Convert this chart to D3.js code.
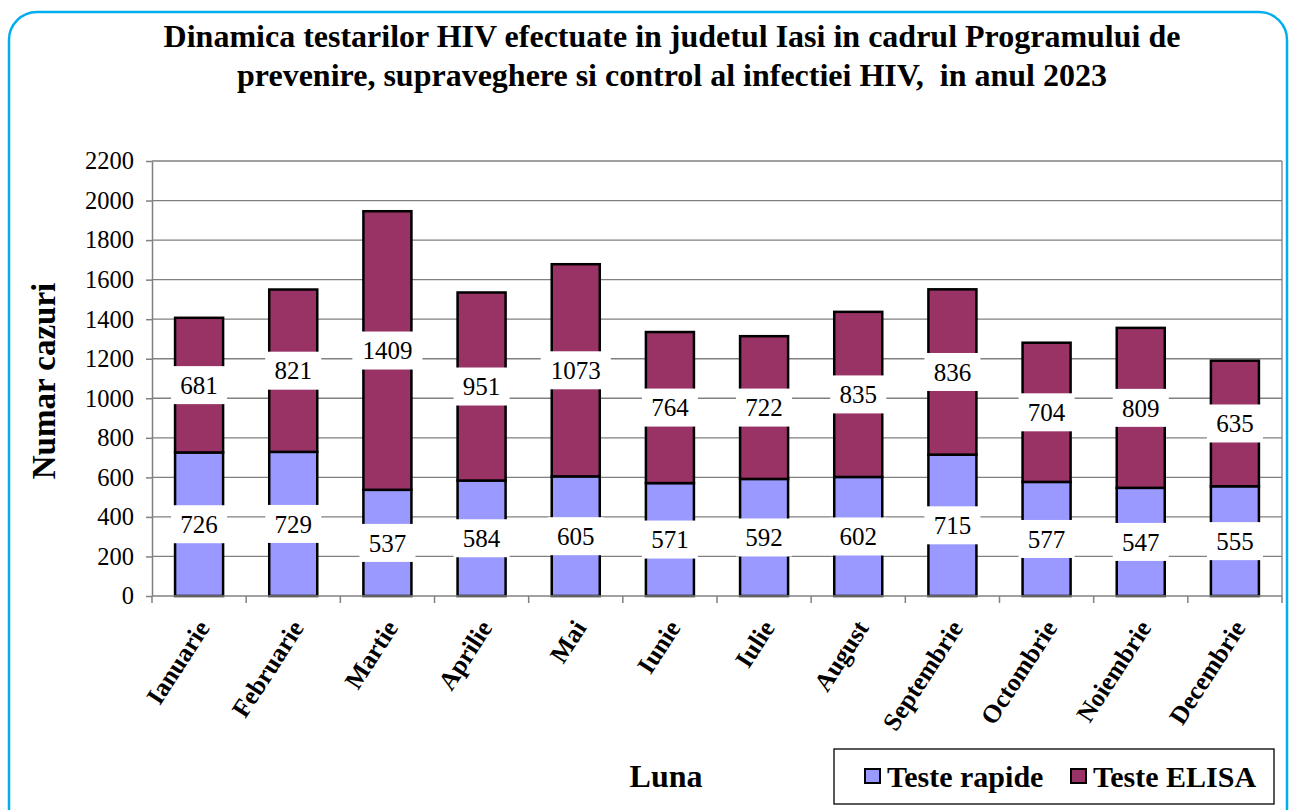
<!DOCTYPE html>
<meta charset="utf-8">
<style>
body { margin: 0; background: #fff; }
svg { display: block; }
svg text { font-family: "Times New Roman", "Liberation Serif", Times, serif; }
.grid line { stroke: #808080; stroke-width: 1.3; }
.axis path, .axis line { stroke: #808080; stroke-width: 1.5; }
.axis text { fill: #000; }
</style>
<body>
<script src="https://cdn.jsdelivr.net/npm/d3@7"></script>
<script>

// data
var months = ['Ianuarie', 'Februarie', 'Martie', 'Aprilie', 'Mai', 'Iunie', 'Iulie',
              'August', 'Septembrie', 'Octombrie', 'Noiembrie', 'Decembrie'];
var rapide = [726, 729, 537, 584, 605, 571, 592, 602, 715, 577, 547, 555];
var elisa  = [681, 821, 1409, 951, 1073, 764, 722, 835, 836, 704, 809, 635];
var seriesNames = ['Teste rapide', 'Teste ELISA'];
var seriesColors = ['#9999ff', '#993366'];
var yTicks = d3.range(0, 2201, 200);

var W = 1290, H = 810;
var plot = {left: 152, top: 161, right: 1282, bottom: 596};

var svg = d3.select('body').append('svg')
    .attr('width', W)
    .attr('height', H);

// outer rounded frame
svg.append('rect')
    .attr('x', 9).attr('y', 12)
    .attr('width', 1278).attr('height', 830)
    .attr('rx', 28).attr('ry', 28)
    .attr('fill', '#fff')
    .attr('stroke', '#00aeef')
    .attr('stroke-width', 2.5);

// title
var title = svg.append('text')
    .attr('text-anchor', 'middle')
    .attr('font-weight', 'bold')
    .attr('font-size', 32);
title.append('tspan').attr('x', 672).attr('y', 47)
    .text('Dinamica testarilor HIV efectuate in judetul Iasi in cadrul Programului de');
title.append('tspan').attr('x', 672).attr('y', 86)
    .text('prevenire, supraveghere si control al infectiei HIV,  in anul 2023')
    .style('white-space', 'pre');

var x = d3.scaleBand()
    .domain(months)
    .range([plot.left, plot.right])
    .paddingInner(0.49)
    .paddingOuter(0.245);

var band = d3.scaleBand().domain(months).range([plot.left, plot.right]);

var y = d3.scaleLinear()
    .domain([0, 2200])
    .range([plot.bottom, plot.top]);

// gridlines
svg.append('g')
    .attr('class', 'grid')
    .selectAll('line')
    .data(yTicks.filter(function(d) { return d > 0; }))
    .enter().append('line')
    .attr('x1', plot.left).attr('x2', plot.right)
    .attr('y1', function(d) { return y(d); })
    .attr('y2', function(d) { return y(d); });

// right border of plot area
svg.append('line')
    .attr('x1', plot.right).attr('x2', plot.right)
    .attr('y1', plot.top).attr('y2', plot.bottom)
    .attr('stroke', '#808080').attr('stroke-width', 1.3);

// stack
var table = months.map(function(m, i) { return {month: m, r: rapide[i], e: elisa[i]}; });
var stack = d3.stack().keys(['r', 'e'])(table);

var layers = svg.selectAll('.layer')
    .data(stack)
    .enter().append('g')
    .attr('class', 'layer')
    .attr('fill', function(d, i) { return seriesColors[i]; });

layers.selectAll('rect')
    .data(function(d) { return d; })
    .enter().append('rect')
    .attr('x', function(d) { return x(d.data.month); })
    .attr('y', function(d) { return y(d[1]); })
    .attr('width', x.bandwidth())
    .attr('height', function(d) { return y(d[0]) - y(d[1]); })
    .attr('stroke', '#000')
    .attr('stroke-width', 2.5);

// axes
var yAxis = svg.append('g')
    .attr('class', 'axis')
    .attr('transform', 'translate(' + plot.left + ',0)')
    .call(d3.axisLeft(y).tickValues(yTicks).tickFormat(d3.format('d'))
          .tickSize(6).tickSizeOuter(0).tickPadding(12));
yAxis.attr('font-family', null).attr('font-size', null);
yAxis.selectAll('text').attr('font-size', 24.5);

var xAxis = svg.append('g')
    .attr('class', 'axis')
    .attr('transform', 'translate(0,' + plot.bottom + ')');
xAxis.append('line')
    .attr('x1', plot.left).attr('x2', plot.right);
xAxis.selectAll('.tick')
    .data(d3.range(months.length + 1))
    .enter().append('line')
    .attr('x1', function(i) { return plot.left + i * band.bandwidth(); })
    .attr('x2', function(i) { return plot.left + i * band.bandwidth(); })
    .attr('y1', 0).attr('y2', 7);

// month labels, rotated
svg.append('g')
    .selectAll('text')
    .data(months)
    .enter().append('text')
    .attr('transform', function(d) {
      return 'translate(' + (band(d) + band.bandwidth() / 2 + 4) + ',' + (plot.bottom + 27) + ') rotate(-57)';
    })
    .attr('text-anchor', 'end')
    .attr('dy', '0.35em')
    .attr('font-weight', 'bold')
    .attr('font-size', 25.5)
    .text(function(d) { return d; });

// value labels with white boxes
var labels = [];
stack.forEach(function(layer) {
  layer.forEach(function(d) {
    labels.push({month: d.data.month, v: d[1] - d[0], mid: (d[0] + d[1]) / 2});
  });
});

var lab = svg.append('g')
    .selectAll('g')
    .data(labels)
    .enter().append('g')
    .attr('transform', function(d) {
      return 'translate(' + (x(d.month) + x.bandwidth() / 2) + ',' + y(d.mid) + ')';
    });

lab.append('rect')
    .attr('x', function(d) { return String(d.v).length > 3 ? -35 : -28; })
    .attr('width', function(d) { return String(d.v).length > 3 ? 70 : 56; })
    .attr('y', -19)
    .attr('height', 38)
    .attr('fill', '#fff');

lab.append('text')
    .attr('text-anchor', 'middle')
    .attr('dy', '0.35em')
    .attr('font-size', 25)
    .text(function(d) { return d.v; });

// axis titles
svg.append('text')
    .attr('transform', 'translate(55,381) rotate(-90)')
    .attr('text-anchor', 'middle')
    .attr('font-weight', 'bold')
    .attr('font-size', 33)
    .text('Numar cazuri');

svg.append('text')
    .attr('x', 666).attr('y', 787)
    .attr('text-anchor', 'middle')
    .attr('font-weight', 'bold')
    .attr('font-size', 32)
    .text('Luna');

// legend
var legend = svg.append('g');
legend.append('rect')
    .attr('x', 834).attr('y', 749)
    .attr('width', 440).attr('height', 55)
    .attr('fill', '#fff')
    .attr('stroke', '#000')
    .attr('stroke-width', 1.3);

var legX = [865, 1071];
var item = legend.selectAll('.item')
    .data(seriesNames)
    .enter().append('g')
    .attr('transform', function(d, i) { return 'translate(' + legX[i] + ',776)'; });
item.append('rect')
    .attr('x', 0).attr('y', -7)
    .attr('width', 15).attr('height', 14)
    .attr('fill', function(d, i) { return seriesColors[i]; })
    .attr('stroke', '#000')
    .attr('stroke-width', 2);
item.append('text')
    .attr('x', 22)
    .attr('dy', '0.35em')
    .attr('font-weight', 'bold')
    .attr('font-size', 30)
    .text(function(d) { return d; });

</script>
</body>
